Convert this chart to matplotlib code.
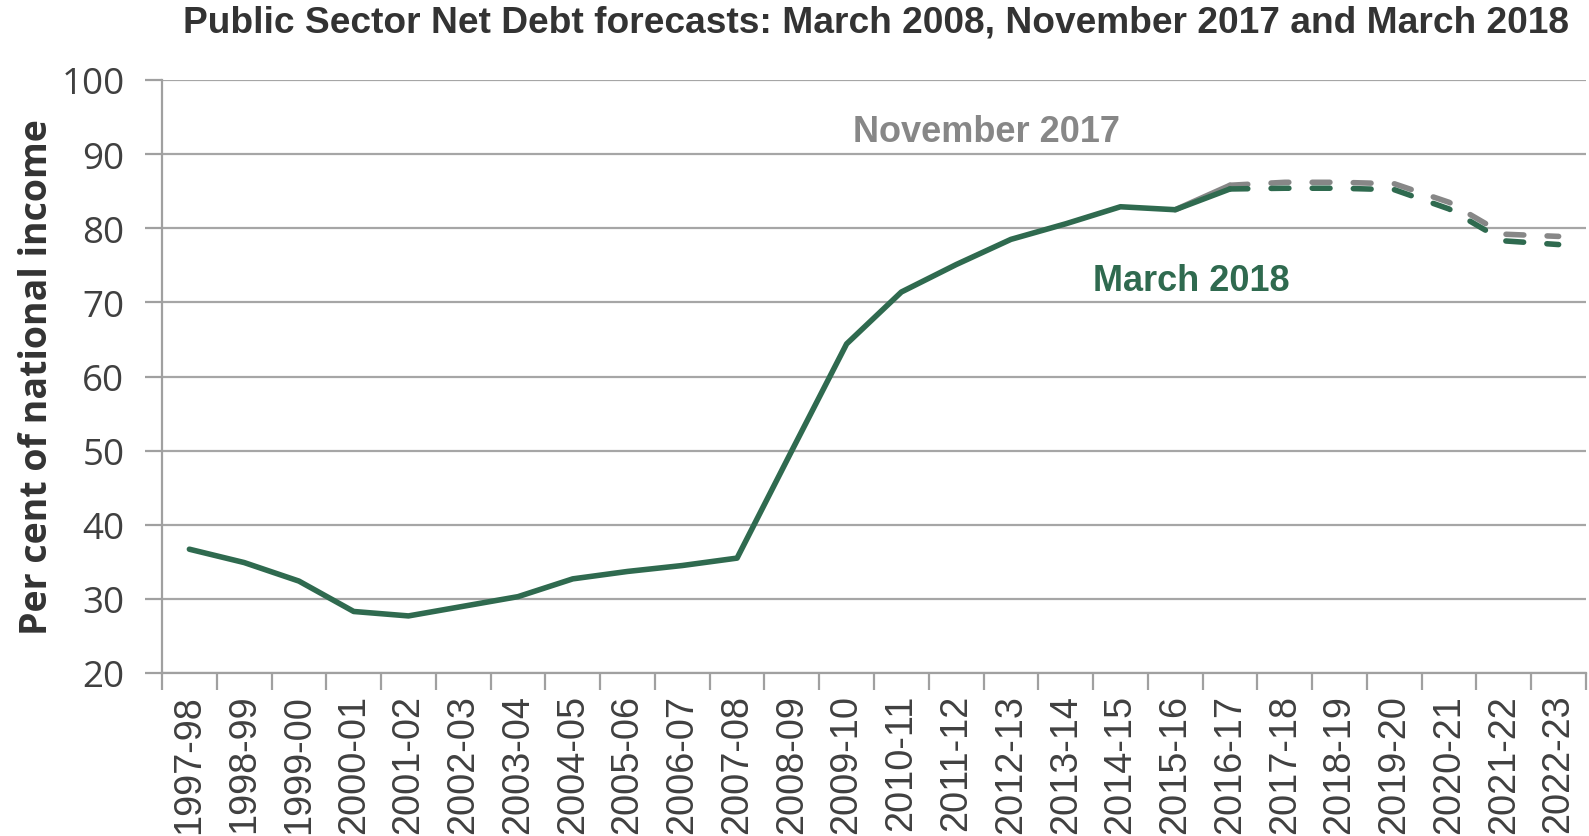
import numpy as np
import matplotlib
matplotlib.use("Agg")
import matplotlib.pyplot as plt

years = ["1997-98", "1998-99", "1999-00", "2000-01", "2001-02", "2002-03", "2003-04",
         "2004-05", "2005-06", "2006-07", "2007-08", "2008-09", "2009-10", "2010-11",
         "2011-12", "2012-13", "2013-14", "2014-15", "2015-16", "2016-17", "2017-18",
         "2018-19", "2019-20", "2020-21", "2021-22", "2022-23"]

# March 2018 outturn + forecast (per cent of national income)
mar2018 = [36.7, 34.9, 32.4, 28.3, 27.7, 29.0, 30.3, 32.7, 33.7, 34.5, 35.5, 50.0,
           64.4, 71.4, 75.1, 78.5, 80.6, 82.9, 82.5, 85.3, 85.4, 85.4, 85.2, 82.6,
           78.3, 77.8]
# November 2017 from 2015-16 onwards
nov2017 = [82.5, 85.8, 86.2, 86.2, 86.0, 83.5, 79.2, 78.9]
nov_start = 18
forecast_start = 19  # 2016-17 is last solid point

green = "#2F6A4F"
grey = "#878787"
text_col = "#404040"

fig = plt.figure(figsize=(15.89, 8.37), dpi=100)
ax = fig.add_axes([162 / 1589, 1 - 674 / 837, (1586 - 162) / 1589, (674 - 81) / 837])

x = np.arange(len(years))
lw = 4.0
dash = (3.2, 4.2)

# November 2017
xn = x[nov_start:]
fs = forecast_start - nov_start
ax.plot(xn[:fs + 1], nov2017[:fs + 1], color=grey, lw=lw, solid_capstyle="round", zorder=3)
ax.plot(xn[fs:], nov2017[fs:], color=grey, lw=lw, dashes=dash, dash_capstyle="round", zorder=3)

# March 2018
ax.plot(x[:forecast_start + 1], mar2018[:forecast_start + 1], color=green, lw=lw,
        solid_capstyle="round", solid_joinstyle="round", zorder=4)
ax.plot(x[forecast_start:], mar2018[forecast_start:], color=green, lw=lw, dashes=dash,
        dash_capstyle="round", zorder=4)

ax.set_xlim(-0.5, len(years) - 0.5)
ax.set_ylim(20, 100)
ax.set_yticks(range(20, 101, 10))
ax.set_xticks(x)
ax.set_xticklabels(years, rotation=90, fontsize=27.3, family=["Liberation Sans", "DejaVu Sans"],
                   color=text_col)
ax.set_xticks(np.arange(-0.5, len(years)), minor=True)
ax.tick_params(axis="x", which="major", length=0, pad=15)
ax.tick_params(axis="x", which="minor", length=12, width=1.6, color="#A0A0A0")
ax.tick_params(axis="y", length=12, width=1.6, color="#A0A0A0", labelsize=26.5, labelcolor=text_col, pad=15)
for lab in ax.get_yticklabels():
    lab.set_family(["Open Sans", "DejaVu Sans"])

ax.grid(axis="y", color="#A6A6A6", lw=1.6)
ax.set_axisbelow(True)
for s in ["top", "right"]:
    ax.spines[s].set_visible(False)
ax.spines["left"].set_color("#A0A0A0")
ax.spines["left"].set_linewidth(1.6)
ax.spines["bottom"].set_color("#A0A0A0")
ax.spines["bottom"].set_linewidth(1.6)

ax.set_ylabel("Per cent of national income", fontsize=27, fontweight="bold", color="#333333",
              family=["Open Sans", "DejaVu Sans"], labelpad=4)

ax.text(14.56, 93.1, "November 2017", color=grey, fontsize=26, fontweight="bold",
        family=["Liberation Sans", "DejaVu Sans"], ha="center", va="center")
ax.text(18.3, 72.9, "March 2018", color=green, fontsize=26, fontweight="bold",
        family=["Liberation Sans", "DejaVu Sans"], ha="center", va="center")

fig.text(876 / 1589, 1 - 23 / 837,
         "Public Sector Net Debt forecasts: March 2008, November 2017 and March 2018",
         fontsize=26.7, fontweight="bold", color="#333333",
         family=["Liberation Sans", "DejaVu Sans"],
         ha="center", va="center")

fig.savefig("out.png", dpi=100)
